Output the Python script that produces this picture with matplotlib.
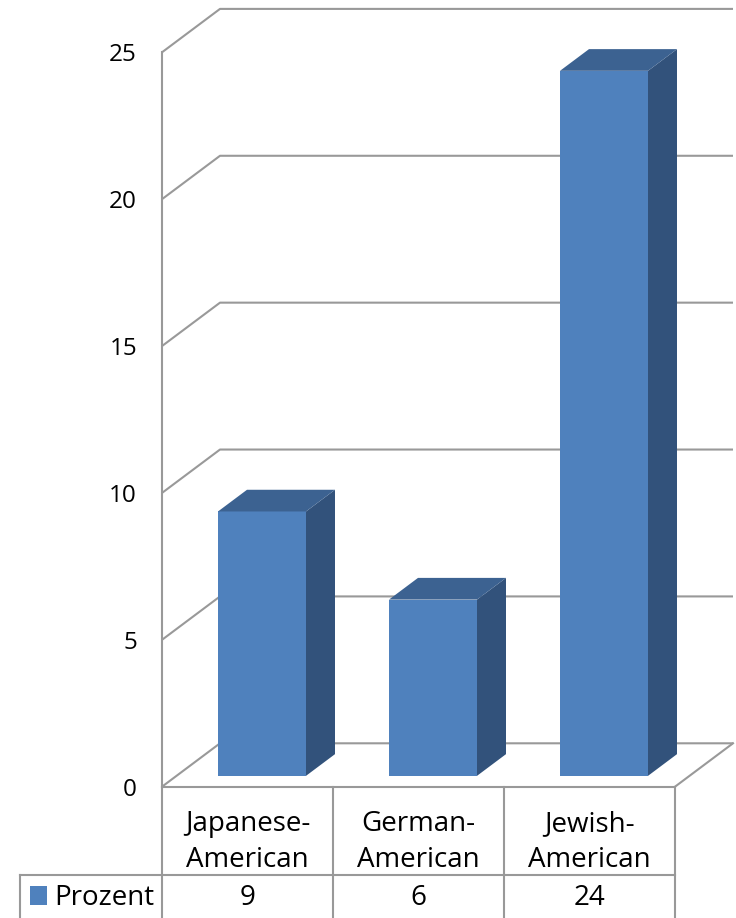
import matplotlib
matplotlib.use("Agg")
import matplotlib.pyplot as plt
from matplotlib.patches import Polygon, Rectangle

# ---- data ----
categories = ["Japanese-\nAmerican", "German-\nAmerican", "Jewish-\nAmerican"]
values = [9, 6, 24]
series_name = "Prozent"
yticks = [0, 5, 10, 15, 20, 25]

plt.rcParams['font.family'] = ['Open Sans', 'DejaVu Sans']

W, H = 736, 918
fig = plt.figure(figsize=(W / 100, H / 100), dpi=100)
fig.patch.set_facecolor('white')

# front plane of the 3D box
ax_left, ax_bottom_px, ax_w, ax_top_px = 162, 786.7, 513, 52.3
ax = fig.add_axes([ax_left / W, (H - ax_bottom_px) / H, ax_w / W, (ax_bottom_px - ax_top_px) / H])
ax.set_xlim(0, len(categories))
ax.set_ylim(0, 25)
ax.patch.set_alpha(0)

px_x = len(categories) / ax_w              # data units per pixel (x)
px_y = 25 / (ax_bottom_px - ax_top_px)     # data units per pixel (y)

DX = 58 * px_x      # depth offset
DY = 43.4 * px_y

grid_c = '#999999'
grid_lw = 1.5
n = len(categories)

# back wall gridlines + side-wall diagonals
for v in yticks:
    ax.plot([0, DX, n + DX], [v, v + DY, v + DY], color=grid_c, lw=grid_lw,
            clip_on=False, solid_capstyle='butt', zorder=1)
# right floor diagonal
ax.plot([n, n + DX], [0, DY], color=grid_c, lw=grid_lw, clip_on=False, zorder=1)

# bars
bw = 88 * px_x
front_c = '#4f81bd'
side_c = '#32527b'
top_c = '#3c6291'
for i, v in enumerate(values):
    x0 = i + 0.5 - bw / 2 + 0.25 * DX
    y0 = 0.25 * DY
    x1 = x0 + bw
    y1 = y0 + v
    ddx, ddy = 0.5 * DX, 0.5 * DY
    ax.add_patch(Polygon([[x0, y0], [x1, y0], [x1, y1], [x0, y1]], closed=True,
                         facecolor=front_c, edgecolor='none', clip_on=False, zorder=3))
    ax.add_patch(Polygon([[x1, y0], [x1 + ddx, y0 + ddy], [x1 + ddx, y1 + ddy], [x1, y1]],
                         closed=True, facecolor=side_c, edgecolor='none', clip_on=False, zorder=3))
    ax.add_patch(Polygon([[x0, y1], [x1, y1], [x1 + ddx, y1 + ddy], [x0 + ddx, y1 + ddy]],
                         closed=True, facecolor=top_c, edgecolor='none', clip_on=False, zorder=3))

# axes styling
for s in ['top', 'right', 'bottom']:
    ax.spines[s].set_visible(False)
ax.spines['left'].set_color(grid_c)
ax.spines['left'].set_linewidth(grid_lw)
ax.set_xticks([])
ax.set_yticks(yticks)
ax.tick_params(axis='y', length=0, pad=18, labelsize=17.5, labelcolor='black')

# ---- data table ----
row1 = -88 * px_y
row2_bottom = -(H - ax_bottom_px + 5) * px_y
legend_left = (20 - ax_left) * px_x
tc = grid_c
# top border of table (floor front edge)
ax.plot([0, n], [0, 0], color=tc, lw=grid_lw, clip_on=False, zorder=2)
# horizontal line between rows
ax.plot([legend_left, n], [row1, row1], color=tc, lw=grid_lw, clip_on=False, zorder=2)
# vertical lines
for k in range(n + 1):
    ax.plot([k, k], [0, row2_bottom], color=tc, lw=grid_lw, clip_on=False, zorder=2)
ax.plot([legend_left, legend_left], [row1, row2_bottom], color=tc, lw=grid_lw, clip_on=False, zorder=2)

cat_c = -(842 - ax_bottom_px) * px_y
for i, c in enumerate(categories):
    ax.text(i + 0.5, cat_c, c, ha='center', va='center', fontsize=20,
            linespacing=1.36, clip_on=False)

row2_c = -(898 - ax_bottom_px) * px_y
for i, v in enumerate(values):
    ax.text(i + 0.5, row2_c, str(v), ha='center', va='center', fontsize=20, clip_on=False)

# legend key
ax.add_patch(Rectangle(((30 - ax_left) * px_x, -(905 - ax_bottom_px) * px_y),
                       17 * px_x, 19 * px_y, facecolor=front_c, edgecolor='none', clip_on=False))
ax.text((54 - ax_left) * px_x, row2_c, series_name, ha='left', va='center', fontsize=20, clip_on=False)

fig.savefig('out.png', dpi=100, facecolor='white')
